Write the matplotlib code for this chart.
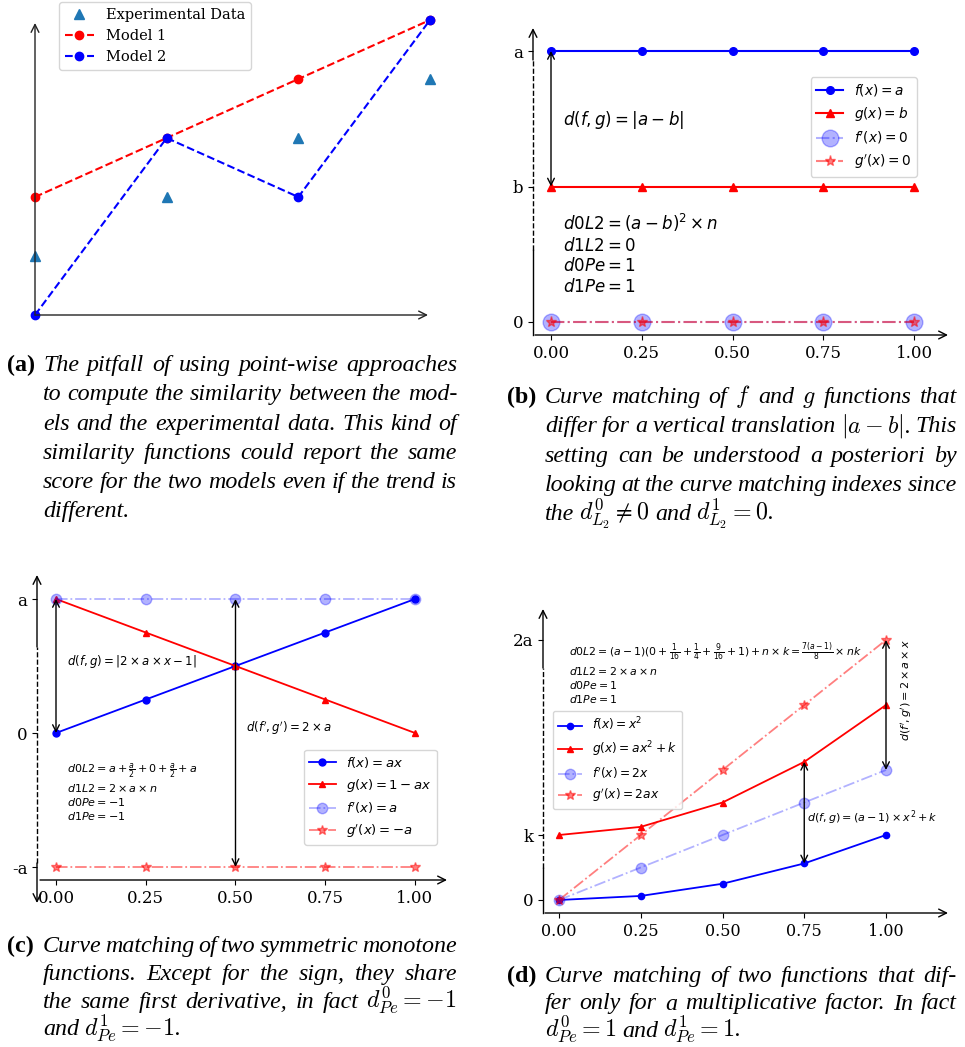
import matplotlib
matplotlib.use('Agg')
import matplotlib.pyplot as plt
from matplotlib.transforms import Affine2D
from matplotlib.lines import Line2D
from matplotlib.patches import FancyArrowPatch

plt.rcParams['font.family'] = 'serif'
plt.rcParams['mathtext.fontset'] = 'dejavusans'

# (a) point-wise pitfall
a_x = [0, 1, 2, 3]
a_exp = [1, 2, 3, 4]
a_model1 = [2, 3, 4, 5]
a_model2 = [0, 3, 2, 5]

# shared x for (b), (c), (d)
xs = [0.0, 0.25, 0.5, 0.75, 1.0]
x_labels = ['0.00', '0.25', '0.50', '0.75', '1.00']

# (b) vertical translation, a=2, b=1
b_f = [2, 2, 2, 2, 2]
b_g = [1, 1, 1, 1, 1]
b_fp = [0, 0, 0, 0, 0]
b_gp = [0, 0, 0, 0, 0]
b_yticks = [0, 1, 2]
b_ylabels = ['0', 'b', 'a']

# (c) symmetric monotone, a=1
c_f = [0, 0.25, 0.5, 0.75, 1]
c_g = [1, 0.75, 0.5, 0.25, 0]
c_fp = [1, 1, 1, 1, 1]
c_gp = [-1, -1, -1, -1, -1]
c_yticks = [-1, 0, 1]
c_ylabels = ['-a', '0', 'a']

# (d) multiplicative factor, a=2, k=1
d_f = [0, 0.0625, 0.25, 0.5625, 1]
d_g = [1, 1.125, 1.5, 2.125, 3]
d_fp = [0, 0.5, 1, 1.5, 2]
d_gp = [0, 1, 2, 3, 4]
d_yticks = [0, 1, 4]
d_ylabels = ['0', 'k', '2a']

cap_a = ["The pitfall of using point-wise approaches",
         "to compute the similarity between the mod-",
         "els and the experimental data. This kind of",
         "similarity functions could report the same",
         "score for the two models even if the trend is",
         "different."]
cap_b = [r"Curve matching of $f$ and $g$ functions that",
         r"differ for a vertical translation $|a-b|$. This",
         "setting can be understood a posteriori by",
         "looking at the curve matching indexes since",
         r"the $d^0_{L_2}\neq0$ and $d^1_{L_2}=0$."]
cap_c = ["Curve matching of two symmetric monotone",
         "functions. Except for the sign, they share",
         r"the same first derivative, in fact $d^0_{Pe}=-1$",
         r"and $d^1_{Pe}=-1$."]
cap_d = ["Curve matching of two functions that dif-",
         "fer only for a multiplicative factor. In fact",
         r"$d^0_{Pe}=1$ and $d^1_{Pe}=1$."]

W, H = 965, 1047
fig = plt.figure(figsize=(W / 100, H / 100), dpi=100)
px = Affine2D().scale(1 / W, -1 / H).translate(0, 1) + fig.transFigure


def make_ax(left, right, top, bottom, xref, yref):
    ax = fig.add_axes([left / W, 1 - bottom / H, (right - left) / W, (bottom - top) / H])
    (p1, v1), (p2, v2) = xref
    s = (v2 - v1) / (p2 - p1)
    ax.set_xlim(v1 + (left - p1) * s, v1 + (right - p1) * s)
    (p1, v1), (p2, v2) = yref
    s = (v2 - v1) / (p2 - p1)
    ax.set_ylim(v1 + (bottom - p1) * s, v1 + (top - p1) * s)
    for sp in ax.spines.values():
        sp.set_visible(False)
    ax.tick_params(labelsize=12)
    return ax


def arrow(x0, y0, x1, y1, color='k'):
    fig.add_artist(FancyArrowPatch((x0, y0), (x1, y1), arrowstyle='->', mutation_scale=14,
                                   lw=1, color=color, transform=px, shrinkA=0, shrinkB=0))


def vseg(x, y0, y1, ls):
    fig.add_artist(Line2D([x, x], [y0, y1], transform=px, color='k', lw=1, ls=ls))


def darrow(ax, x, y0, y1):
    ax.annotate('', xy=(x, y1), xytext=(x, y0),
                arrowprops=dict(arrowstyle='<->', lw=1, color='k', shrinkA=0, shrinkB=0,
                                mutation_scale=12), annotation_clip=False)


def four_curves(ax, f, g, fp, gp, labels, ms, big, star, lw):
    ax.plot(xs, f, '-o', color='b', ms=ms, lw=lw, label=labels[0], clip_on=False)
    ax.plot(xs, g, '-^', color='r', ms=ms, lw=lw, label=labels[1], clip_on=False)
    ax.plot(xs, fp, '-.o', color='b', alpha=0.3, ms=big, lw=lw, label=labels[2], clip_on=False)
    ax.plot(xs, gp, '-.*', color='r', alpha=0.5, ms=star, lw=lw, label=labels[3], clip_on=False)


# ---- (a)
axa = make_ax(35, 430, 20, 315, ((35, 0), (430, 3)), ((315, 0), (20, 5)))
axa.set_xticks([])
axa.set_yticks([])
axa.plot(a_x, a_exp, '^', color='#1f77b4', ms=6.5, ls='none', label='Experimental Data', clip_on=False)
axa.plot(a_x, a_model1, 'r--o', ms=6, lw=1.5, label='Model 1', clip_on=False)
axa.plot(a_x, a_model2, 'b--o', ms=6, lw=1.5, label='Model 2', clip_on=False)
arrow(35, 315, 428, 315, '#222222')
arrow(35, 315, 35, 23, '#222222')
axa.legend(loc='upper left', bbox_to_anchor=(59, 2), bbox_transform=px, borderaxespad=0, fontsize=10.5)

# ---- (b)
axb = make_ax(533, 950, 28, 335, ((551, 0), (914, 1)), ((322, 0), (51, 2)))
four_curves(axb, b_f, b_g, b_fp, b_gp,
            [r'$f(x) = a$', r'$g(x) = b$', r"$f'(x) = 0$", r"$g'(x) = 0$"], 5.5, 12, 8, 1.5)
axb.set_xticks(xs, x_labels)
axb.set_yticks(b_yticks, b_ylabels)
darrow(axb, xs[0], b_f[0], b_g[0])
vseg(533, 335, 250, '-')
vseg(533, 250, 60, '--')
arrow(533, 60, 533, 28)
arrow(535, 335, 948, 335)
axb.legend(loc='upper right', bbox_to_anchor=(917, 77), bbox_transform=px, borderaxespad=0, fontsize=9.8)
fig.text(563, 120, r'$d(f, g) = |a - b|$', transform=px, fontsize=12, va='center')
fig.text(563, 254, '$d0L2 = (a - b)^2 \\times n$\n$d1L2 = 0$\n$d0Pe = 1$\n$d1Pe = 1$',
         transform=px, fontsize=12, va='center')

# ---- (c)
axc = make_ax(37, 447, 575, 880, ((56, 0), (415, 1)), ((733, 0), (599, 1)))
four_curves(axc, c_f, c_g, c_fp, c_gp,
            [r'$f(x) = ax$', r'$g(x) = 1 - ax$', r"$f'(x) = a$", r"$g'(x) = -a$"], 5, 7.5, 7, 1.3)
axc.set_xticks(xs, x_labels)
axc.set_yticks(c_yticks, c_ylabels)
darrow(axc, xs[0], c_f[0], c_g[0])
darrow(axc, xs[2], c_fp[2], c_gp[2])
arrow(37, 863, 37, 903)
vseg(37, 863, 647, '--')
arrow(37, 647, 37, 575)
arrow(40, 880, 447, 880)
axc.legend(loc='lower right', bbox_to_anchor=(437, 845), bbox_transform=px, borderaxespad=0, fontsize=9.5)
fig.text(67, 661, r'$d(f, g) = |2 \times a \times x - 1|$', transform=px, fontsize=8.5, va='center')
fig.text(246, 728, r"$d(f', g') = 2 \times a$", transform=px, fontsize=8.5, va='center')
fig.text(67, 761, '$d0L2 = a + \\frac{a}{2} + 0 + \\frac{a}{2} + a$\n$d1L2 = 2 \\times a \\times n$\n'
         '$d0Pe = -1$\n$d1Pe = -1$', transform=px, fontsize=8, va='top')

# ---- (d)
axd = make_ax(543, 948, 609, 913, ((559, 0), (886, 1)), ((900, 0), (835, 1)))
four_curves(axd, d_f, d_g, d_fp, d_gp,
            [r'$f(x) = x^2$', r'$g(x) = ax^2 + k$', r"$f'(x) = 2x$", r"$g'(x) = 2ax$"], 4.5, 7.5, 7.5, 1.3)
axd.set_xticks(xs, x_labels)
axd.set_yticks(d_yticks, d_ylabels)
axd.tick_params(axis='x', labelsize=11.5)
darrow(axd, xs[3], d_f[3], d_g[3])
darrow(axd, xs[4], d_gp[4], d_fp[4])
vseg(543, 913, 868, '-')
vseg(543, 868, 668, '--')
arrow(543, 668, 543, 609)
arrow(545, 913, 948, 913)
axd.legend(loc='upper left', bbox_to_anchor=(553, 711), bbox_transform=px, borderaxespad=0, fontsize=8.8)
fig.text(569, 640, '$d0L2 = (a-1)(0 + \\frac{1}{16} + \\frac{1}{4} + \\frac{9}{16} + 1) + n \\times k = '
         '\\frac{7(a-1)}{8} \\times nk$\n$d1L2 = 2 \\times a \\times n$\n$d0Pe = 1$\n$d1Pe = 1$',
         transform=px, fontsize=7.8, va='top')
fig.text(807, 818, r'$d(f, g) = (a - 1) \times x^2 + k$', transform=px, fontsize=8, va='center')
fig.text(907, 690, r"$d(f', g') = 2 \times a \times x$", transform=px, fontsize=8,
         rotation=90, ha='center', va='center')

# ---- captions, justified line by line
CAP = 17.3
renderer = fig.canvas.get_renderer()


def put_line(text, x0, x1, y, justify):
    words = text.split()
    arts = [fig.text(0, y, w, transform=px, fontsize=CAP, fontfamily='Liberation Serif',
                     style='italic', math_fontfamily='cm', va='baseline') for w in words]
    widths = [t.get_window_extent(renderer).width for t in arts]
    gap = CAP * 0.3
    if justify and len(words) > 1:
        gap = max((x1 - x0 - sum(widths)) / (len(words) - 1), CAP * 0.18)
    x = x0
    for t, w in zip(arts, widths):
        t.set_x(x)
        x += w + gap


def caption(label, lines, xl, x0, x1, y0, step):
    fig.text(xl, y0, label, transform=px, fontsize=CAP, fontfamily='Liberation Serif',
             fontweight='bold', va='baseline')
    for i, line in enumerate(lines):
        put_line(line, x0, x1, y0 + i * step, i < len(lines) - 1)


caption('(a)', cap_a, 7, 43, 457, 371, 29.3)
caption('(b)', cap_b, 507, 545, 957, 403, 29.3)
caption('(c)', cap_c, 7, 43, 457, 952, 27.8)
caption('(d)', cap_d, 507, 545, 957, 982, 27.5)

fig.savefig('out.png', dpi=100)
